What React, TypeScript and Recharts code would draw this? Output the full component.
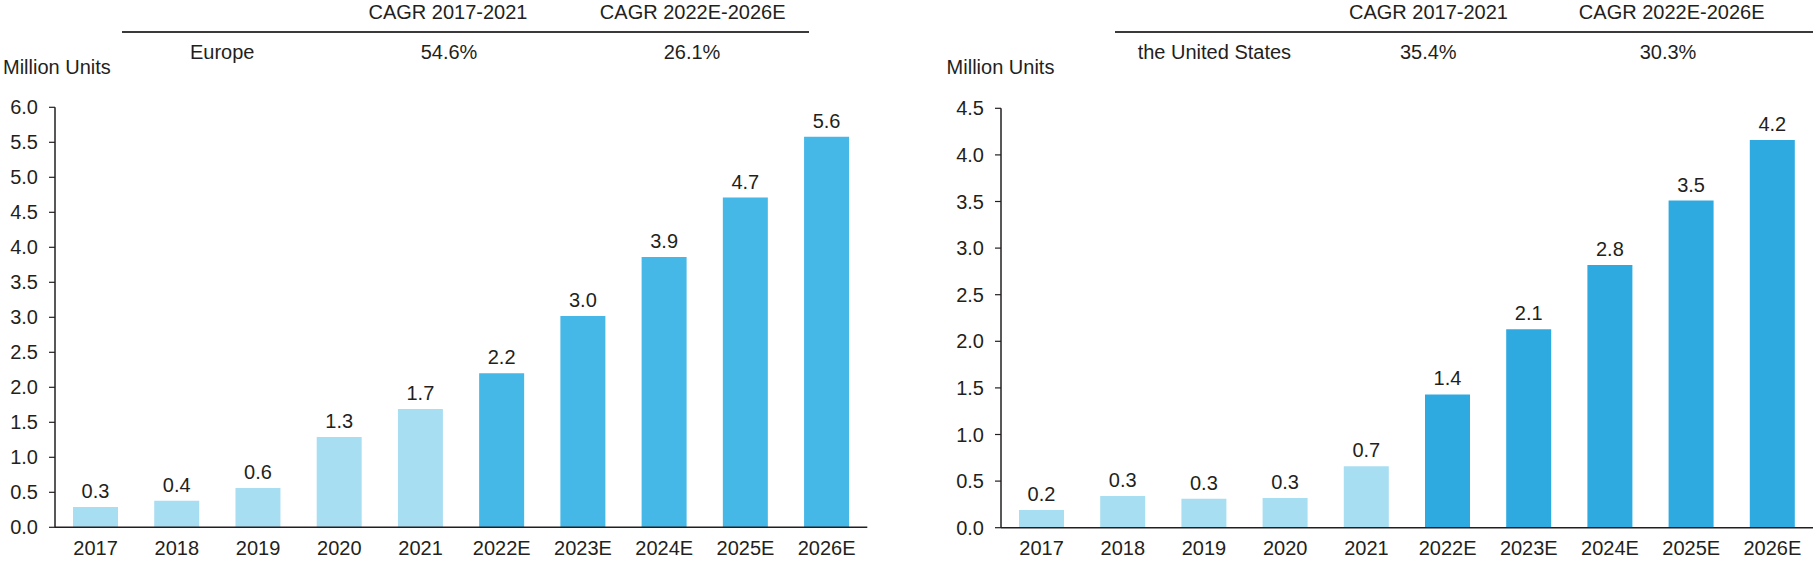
import React from 'react';
import { BarChart, Bar, XAxis, YAxis, Cell, LabelList } from 'recharts';

const categories = ['2017', '2018', '2019', '2020', '2021', '2022E', '2023E', '2024E', '2025E', '2026E'];
const europeValues = [0.29, 0.38, 0.56, 1.29, 1.69, 2.2, 3.02, 3.86, 4.71, 5.58];
const usValues = [0.19, 0.34, 0.31, 0.32, 0.66, 1.43, 2.13, 2.82, 3.51, 4.16];
const europeTicks = [0, 0.5, 1, 1.5, 2, 2.5, 3, 3.5, 4, 4.5, 5, 5.5, 6];
const usTicks = [0, 0.5, 1, 1.5, 2, 2.5, 3, 3.5, 4, 4.5];
const cagrHeaders = ['CAGR 2017-2021', 'CAGR 2022E-2026E'];
const europeCagr = ['54.6%', '26.1%'];
const usCagr = ['35.4%', '30.3%'];

const TEXT = '#231F20';
const HIST_COLOR = '#A8DEF2';
const FONT = '"Liberation Sans", Arial, sans-serif';

interface RegionChartProps {
  values: number[];
  ticks: number[];
  forecastColor: string;
  width: number;
  yAxisWidth: number;
  top: number;
  right: number;
  xAxisHeight: number;
}

function RegionChart({ values, ticks, forecastColor, width, yAxisWidth, top, right, xAxisHeight }: RegionChartProps) {
  const data = categories.map((c, i) => ({ name: c, value: values[i] }));
  return (
    <BarChart width={width} height={562} data={data} margin={{ top, right, left: 0, bottom: 0 }}>
      <XAxis
        dataKey="name"
        height={xAxisHeight}
        tickLine={false}
        tickSize={0}
        tickMargin={13}
        axisLine={{ stroke: TEXT, strokeWidth: 1.5 }}
        tick={{ fill: TEXT, fontSize: 20, fontFamily: FONT }}
        interval={0}
      />
      <YAxis
        width={yAxisWidth}
        domain={[0, ticks[ticks.length - 1]]}
        ticks={ticks}
        tickFormatter={v => v.toFixed(1)}
        tickSize={6}
        tickMargin={11}
        tickLine={{ stroke: TEXT, strokeWidth: 1.2 }}
        axisLine={{ stroke: TEXT, strokeWidth: 1.5 }}
        tick={{ fill: TEXT, fontSize: 20, fontFamily: FONT }}
      />
      <Bar dataKey="value" barSize={45} isAnimationActive={false}>
        {data.map((d, i) => (
          <Cell key={d.name} fill={i < 5 ? HIST_COLOR : forecastColor} />
        ))}
        <LabelList
          dataKey="value"
          position="top"
          offset={9}
          formatter={(v: number) => v.toFixed(1)}
          fill={TEXT}
          fontSize={20}
          fontFamily={FONT}
        />
      </Bar>
    </BarChart>
  );
}

const textStyle: React.CSSProperties = {
  position: 'absolute',
  fontSize: 20,
  lineHeight: '20px',
  color: TEXT,
  whiteSpace: 'nowrap',
};

function Centered({ cx, cy, children }: { cx: number; cy: number; children: React.ReactNode }) {
  return (
    <div style={{ ...textStyle, left: cx - 150, width: 300, textAlign: 'center', top: cy - 10 }}>{children}</div>
  );
}

function Left({ x, cy, children }: { x: number; cy: number; children: React.ReactNode }) {
  return <div style={{ ...textStyle, left: x, top: cy - 10 }}>{children}</div>;
}

function Rule({ x1, x2, y }: { x1: number; x2: number; y: number }) {
  return <div style={{ position: 'absolute', left: x1, width: x2 - x1, top: y - 1, height: 2, background: '#3A3A3A' }} />;
}

export default function App() {
  return (
    <div
      style={{
        position: 'absolute', left: 0, top: 0, width: 1813, height: 562,
        background: '#fff', fontFamily: FONT, overflow: 'hidden',
      }}
    >
      <div style={{ position: 'absolute', left: 0, top: 0 }}>
        <RegionChart
          values={europeValues}
          ticks={europeTicks}
          forecastColor="#45B8E8"
          width={900}
          yAxisWidth={55}
          top={107.3}
          right={32.7}
          xAxisHeight={34.7}
        />
      </div>
      <div style={{ position: 'absolute', left: 900, top: 0 }}>
        <RegionChart
          values={usValues}
          ticks={usTicks}
          forecastColor="#2EAAE1"
          width={913}
          yAxisWidth={101}
          top={108.3}
          right={0}
          xAxisHeight={34.3}
        />
      </div>

      {/* Europe header */}
      <Centered cx={448} cy={12}>{cagrHeaders[0]}</Centered>
      <Centered cx={692.7} cy={12}>{cagrHeaders[1]}</Centered>
      <Rule x1={121.7} x2={809.3} y={31.7} />
      <Left x={190} cy={51.7}>Europe</Left>
      <Centered cx={449} cy={51.7}>{europeCagr[0]}</Centered>
      <Centered cx={692} cy={51.7}>{europeCagr[1]}</Centered>
      <Left x={3} cy={66.7}>Million Units</Left>

      {/* US header */}
      <Centered cx={1428.5} cy={12}>{cagrHeaders[0]}</Centered>
      <Centered cx={1671.7} cy={12}>{cagrHeaders[1]}</Centered>
      <Rule x1={1115} x2={1813} y={32} />
      <Left x={1137.7} cy={51.7}>the United States</Left>
      <Centered cx={1428.3} cy={51.7}>{usCagr[0]}</Centered>
      <Centered cx={1668} cy={51.7}>{usCagr[1]}</Centered>
      <Left x={946.6} cy={66.7}>Million Units</Left>
    </div>
  );
}
